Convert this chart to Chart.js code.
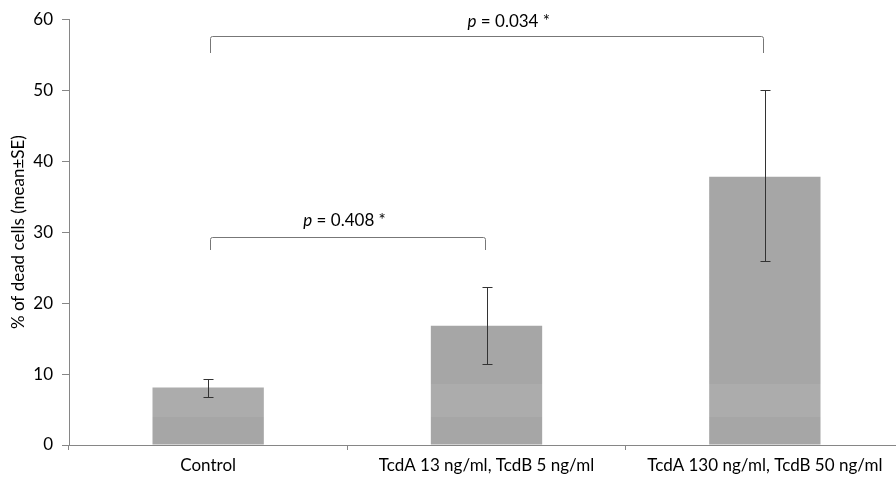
<!DOCTYPE html>
<html>
<head>
<meta charset="utf-8">
<script src="https://cdn.jsdelivr.net/npm/chart.js@4/dist/chart.umd.min.js"></script>
<style>
  html, body { margin: 0; padding: 0; background: #fff; overflow: hidden; }
  #wrap { width: 896px; height: 479px; overflow: hidden; }
</style>
</head>
<body>
<div id="wrap"><canvas id="deadCells" width="906" height="479"></canvas></div>
<script>
const categories = ['Control', 'TcdA 13 ng/ml, TcdB 5 ng/ml', 'TcdA 130 ng/ml, TcdB 50 ng/ml'];
const meanDead = [8.1, 16.8, 37.8];
const errLow = [6.8, 11.4, 25.9];
const errHigh = [9.3, 22.2, 50.0];
const yTicks = [0, 10, 20, 30, 40, 50, 60];

// significance brackets: from / to category index, level, drop of the ends, label
const brackets = [
    { from: 0, to: 2, level: 57.6, drop: 2.4, labelAt: 1.08, labelY: 59.7, p: '0.034 *' },
    { from: 0, to: 1, level: 29.3, drop: 1.8, labelAt: 0.49, labelY: 31.6, p: '0.408 *' }
];

const FONT = 'Lato, "Open Sans", sans-serif';
const AXIS_GREY = '#868686';

// bars have a faint lighter band near the bottom
function barFill(context) {
    const chart = context.chart;
    const y = chart.scales.y;
    if (!y || !chart.chartArea) return '#a6a6a6';
    const g = chart.ctx.createLinearGradient(0, y.getPixelForValue(0), 0, y.getPixelForValue(60));
    const p1 = 4 / 60, p2 = 8.6 / 60;
    g.addColorStop(0, '#a6a6a6');
    g.addColorStop(p1, '#a6a6a6');
    g.addColorStop(p1 + 0.0001, '#acacac');
    g.addColorStop(p2, '#acacac');
    g.addColorStop(p2 + 0.0001, '#a6a6a6');
    g.addColorStop(1, '#a6a6a6');
    return g;
}

const errorBars = {
    id: 'errorBars',
    afterDatasetsDraw(chart) {
        const ctx = chart.ctx;
        const x = chart.scales.x, y = chart.scales.y;
        ctx.save();
        ctx.strokeStyle = '#333333';
        ctx.lineWidth = 1;
        categories.forEach((c, i) => {
            const px = Math.round(x.getPixelForValue(i)) + 0.5;
            const top = Math.round(y.getPixelForValue(errHigh[i])) + 0.5;
            const bot = Math.round(y.getPixelForValue(errLow[i])) + 0.5;
            ctx.beginPath();
            ctx.moveTo(px, top); ctx.lineTo(px, bot);
            ctx.moveTo(px - 5, top); ctx.lineTo(px + 5, top);
            ctx.moveTo(px - 5, bot); ctx.lineTo(px + 5, bot);
            ctx.stroke();
        });
        ctx.restore();
    }
};

const sigBrackets = {
    id: 'sigBrackets',
    afterDraw(chart) {
        const ctx = chart.ctx;
        const x = chart.scales.x, y = chart.scales.y;
        ctx.save();
        brackets.forEach(b => {
            const x1 = Math.round(x.getPixelForValue(b.from)) + 2.5;
            const x2 = Math.round(x.getPixelForValue(b.to)) - 1.5;
            const yl = Math.round(y.getPixelForValue(b.level)) + 0.5;
            const ye = Math.round(y.getPixelForValue(b.level - b.drop));
            ctx.strokeStyle = '#777777';
            ctx.lineWidth = 1;
            ctx.beginPath();
            ctx.moveTo(x1, ye); ctx.lineTo(x1, yl + 2);
            ctx.quadraticCurveTo(x1, yl, x1 + 2, yl);
            ctx.lineTo(x2 - 2, yl);
            ctx.quadraticCurveTo(x2, yl, x2, yl + 2);
            ctx.lineTo(x2, ye);
            ctx.stroke();

            // label: italic p, then the rest
            const italic = 'italic 17px ' + FONT;
            const normal = '17px ' + FONT;
            const rest = ' = ' + b.p;
            ctx.font = italic;
            const wp = ctx.measureText('p').width;
            ctx.font = normal;
            const wr = ctx.measureText(rest).width;
            const cx = x.getPixelForValue(b.labelAt);
            const cy = y.getPixelForValue(b.labelY);
            const start = cx - (wp + wr) / 2;
            ctx.fillStyle = '#000000';
            ctx.textBaseline = 'middle';
            ctx.textAlign = 'left';
            ctx.font = italic;
            ctx.fillText('p', start, cy);
            ctx.font = normal;
            ctx.fillText(rest, start + wp, cy);
        });
        ctx.restore();
    }
};

new Chart(document.getElementById('deadCells'), {
    type: 'bar',
    data: {
        labels: categories,
        datasets: [{
            label: '% of dead cells',
            data: meanDead,
            backgroundColor: barFill,
            borderWidth: 0,
            categoryPercentage: 1.0,
            barPercentage: 0.4
        }]
    },
    options: {
        responsive: false,
        animation: false,
        layout: { padding: { left: 0, right: 2, top: 19, bottom: 0 } },
        plugins: {
            legend: { display: false },
            tooltip: { enabled: false }
        },
        scales: {
            x: {
                offset: true,
                afterFit: axis => { axis.height = 34; },
                grid: {
                    offset: true,
                    drawOnChartArea: false,
                    drawTicks: true,
                    tickLength: 5,
                    color: AXIS_GREY
                },
                border: { color: AXIS_GREY, width: 1 },
                ticks: {
                    color: '#000000',
                    padding: 5,
                    maxRotation: 0,
                    autoSkip: false,
                    font: { family: FONT, size: 17 }
                }
            },
            y: {
                min: 0,
                max: 60,
                afterFit: axis => { axis.width = 69; },
                afterBuildTicks: axis => { axis.ticks = yTicks.map(v => ({ value: v })); },
                grid: {
                    drawOnChartArea: false,
                    drawTicks: true,
                    tickLength: 7,
                    color: AXIS_GREY
                },
                border: { color: AXIS_GREY, width: 1 },
                ticks: {
                    color: '#000000',
                    padding: 9,
                    font: { family: FONT, size: 17 }
                },
                title: {
                    display: true,
                    text: '% of dead cells (mean±SE)',
                    color: '#000000',
                    padding: { top: 8, bottom: 0 },
                    font: { family: FONT, size: 17 }
                }
            }
        }
    },
    plugins: [errorBars, sigBrackets]
});
</script>
</body>
</html>
